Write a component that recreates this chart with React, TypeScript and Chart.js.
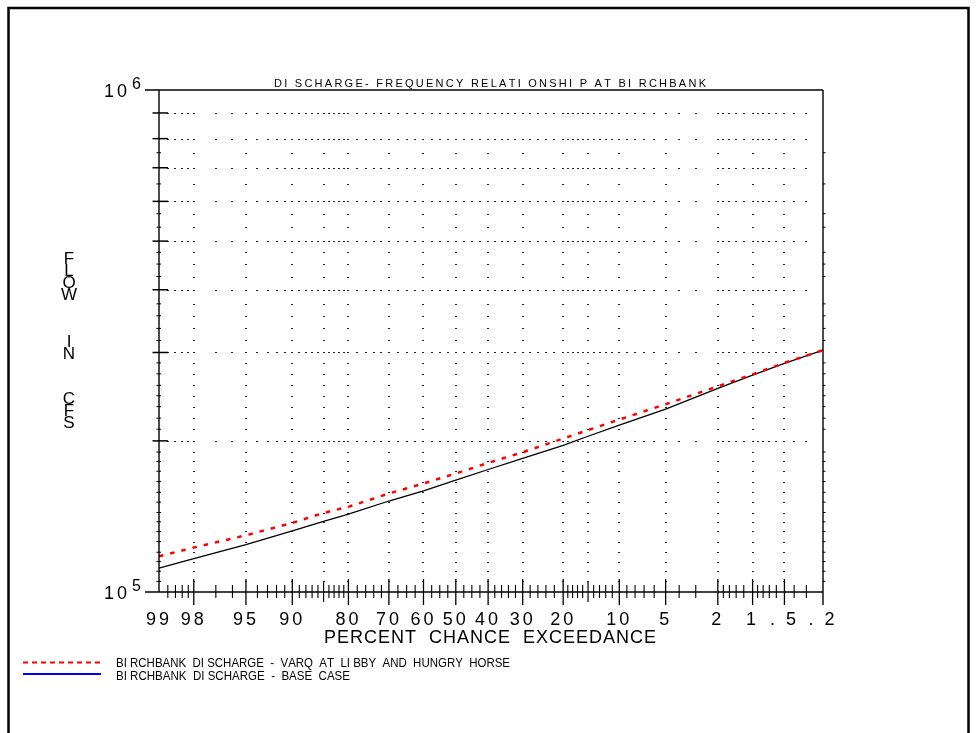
import React, { useEffect, useRef } from 'react';
import { Chart, Scale, LineController, LineElement, PointElement, LogarithmicScale, LinearScale } from 'chart.js';

// ---------------- data ----------------
const PCT = [99, 98, 95, 90, 85, 80, 70, 60, 50, 40, 30, 20, 15, 10, 5, 2, 1, 0.5, 0.2];
const VARQ_FLOW = [117800, 122600, 129700, 137300, 143700, 147800, 157100, 164500, 172200, 180800, 189800, 202200, 210100, 220600, 236600, 257000, 271300, 286100, 303200];
const BASE_FLOW = [111600, 116600, 124300, 132300, 138300, 142900, 151800, 159000, 167000, 175400, 184500, 196000, 204300, 214900, 231300, 254400, 270400, 285300, 303200];

const X_LEFT = 99;
const X_RIGHT = 0.2;
const X_MAJOR = [99, 98, 95, 90, 80, 70, 60, 50, 40, 30, 20, 10, 5, 2, 1, 0.5, 0.2];
const X_MAJOR_LABELS = ['99', '98', '95', '90', '80', '70', '60', '50', '40', '30', '20', '10', '5', '2', '1', '. 5', '. 2'];
const X_MEDIUM = [85, 15];
const X_MINOR = [98.8, 98.6, 98.4, 98.2, 97, 96, 94, 93, 92, 91, 89, 88, 87, 86, 84, 83, 82, 81, 78, 76, 74, 72, 67.5, 65, 62.5, 57.5, 55, 52.5, 47.5, 45, 42.5, 38, 36, 34, 32, 28, 26, 24, 22, 19, 18, 17, 16, 14, 13, 12, 11, 9, 8, 7, 6, 4, 3, 1.8, 1.6, 1.4, 1.2, 0.9, 0.8, 0.7, 0.6, 0.4, 0.3];
const X_GRID = [98, 95, 90, 85, 80, 70, 60, 50, 40, 30, 20, 15, 10, 5, 2, 1, 0.5];

const Y_MIN = 1e5;
const Y_MAX = 1e6;
const Y_MAJOR = [2e5, 3e5, 4e5, 5e5, 6e5, 7e5, 8e5, 9e5];
const Y_MINOR = [1.05e5, 1.1e5, 1.15e5, 1.2e5, 1.26e5, 1.32e5, 1.38e5, 1.44e5, 1.51e5, 1.58e5, 1.66e5, 1.74e5, 1.82e5, 1.9e5, 2.11e5, 2.22e5, 2.34e5, 2.46e5, 2.58e5, 2.72e5, 2.86e5, 3.17e5, 3.35e5, 3.55e5, 3.75e5, 4.25e5, 4.5e5, 4.75e5, 5.33e5, 5.67e5, 6.5e5, 7.5e5];
const Y_EXP_LABELS = [{ value: 1e5, base: '10', exp: '5' }, { value: 1e6, base: '10', exp: '6' }];

const TITLE = 'DI SCHARGE- FREQUENCY RELATI ONSHI P AT BI RCHBANK';
const X_TITLE = 'PERCENT  CHANCE  EXCEEDANCE';
const Y_TITLE = 'FLOW IN CFS';
const LEGEND_LABELS = [
  'BI RCHBANK  DI SCHARGE  -  VARQ  AT  LI BBY  AND  HUNGRY  HORSE',
  'BI RCHBANK  DI SCHARGE  -  BASE  CASE',
];

const FONT = "'Liberation Sans', Arial, Helvetica, sans-serif";

// ---------------- normal probability transform ----------------
function normInv(p: number): number {
  const a = [-3.969683028665376e1, 2.209460984245205e2, -2.759285104469687e2, 1.38357751867269e2, -3.066479806614716e1, 2.506628277459239];
  const b = [-5.447609879822406e1, 1.615858368580409e2, -1.556989798598866e2, 6.680131188771972e1, -1.328068155288572e1];
  const c = [-7.784894002430293e-3, -3.223964580411365e-1, -2.400758277161838, -2.549732539343734, 4.374664141464968, 2.938163982698783];
  const d = [7.784695709041462e-3, 3.224671290700398e-1, 2.445134137142996, 3.754408661907416];
  const pl = 0.02425;
  if (p < pl) {
    const q = Math.sqrt(-2 * Math.log(p));
    return (((((c[0] * q + c[1]) * q + c[2]) * q + c[3]) * q + c[4]) * q + c[5]) / ((((d[0] * q + d[1]) * q + d[2]) * q + d[3]) * q + 1);
  }
  if (p <= 1 - pl) {
    const q = p - 0.5;
    const r = q * q;
    return ((((((a[0] * r + a[1]) * r + a[2]) * r + a[3]) * r + a[4]) * r + a[5]) * q) / (((((b[0] * r + b[1]) * r + b[2]) * r + b[3]) * r + b[4]) * r + 1);
  }
  const q = Math.sqrt(-2 * Math.log(1 - p));
  return -(((((c[0] * q + c[1]) * q + c[2]) * q + c[3]) * q + c[4]) * q + c[5]) / ((((d[0] * q + d[1]) * q + d[2]) * q + d[3]) * q + 1);
}
const zOf = (pct: number) => normInv(1 - pct / 100);

class ProbabilityScale extends Scale {
  static id = 'probability';
  static defaults = {};
  determineDataLimits() {
    (this as any).min = Math.min(X_LEFT, X_RIGHT);
    (this as any).max = Math.max(X_LEFT, X_RIGHT);
  }
  buildTicks() {
    return X_MAJOR.map((value) => ({ value }));
  }
  getLabelForValue(value: number) {
    return String(value);
  }
  getPixelForValue(value: number) {
    const z0 = zOf(X_LEFT);
    const z1 = zOf(X_RIGHT);
    return (this as any).getPixelForDecimal((zOf(value) - z0) / (z1 - z0));
  }
  getValueForPixel(pixel: number) {
    const dd = (this as any).getDecimalForPixel(pixel);
    const z0 = zOf(X_LEFT);
    const z1 = zOf(X_RIGHT);
    const zt = z0 + dd * (z1 - z0);
    let lo = 0.0001;
    let hi = 99.9999;
    for (let i = 0; i < 60; i++) {
      const mid = (lo + hi) / 2;
      if (zOf(mid) > zt) lo = mid;
      else hi = mid;
    }
    return (lo + hi) / 2;
  }
}

// ---------------- text helper ----------------
function drawText(ctx: CanvasRenderingContext2D, text: string, x: number, y: number, px: number, opts: { align?: 'left' | 'center'; width?: number; spacing?: number } = {}) {
  ctx.font = `${px}px ${FONT}`;
  ctx.textAlign = 'left';
  ctx.textBaseline = 'alphabetic';
  const chars = Array.from(text);
  const adv = chars.map((ch) => ctx.measureText(ch).width);
  const natural = adv.reduce((s, w) => s + w, 0);
  let sp = opts.spacing ?? 0;
  let sx = 1;
  if (opts.width != null) {
    sp = (opts.width - natural) / Math.max(1, chars.length - 1);
    if (sp < 0) {
      sp = 0;
      sx = opts.width / natural;
    }
  }
  const total = (natural + sp * (chars.length - 1)) * sx;
  const x0 = opts.align === 'center' ? x - total / 2 : x;
  ctx.save();
  ctx.translate(x0, y);
  ctx.scale(sx, 1);
  let cx = 0;
  chars.forEach((ch, i) => {
    if (ch !== ' ') ctx.fillText(ch, cx, 0);
    cx += adv[i] + sp;
  });
  ctx.restore();
}

// ---------------- probability paper plugin ----------------
const paperPlugin = {
  id: 'probabilityPaper',
  beforeDatasetsDraw(chart: any) {
    const ctx: CanvasRenderingContext2D = chart.ctx;
    const xs = chart.scales.x;
    const ys = chart.scales.y;
    ctx.save();
    ctx.fillStyle = '#222';
    const xTicks = [...X_MAJOR, ...X_MEDIUM, ...X_MINOR].filter((p) => p !== X_LEFT && p !== X_RIGHT);
    for (const v of Y_MAJOR) {
      const y = Math.round(ys.getPixelForValue(v));
      for (const p of xTicks) {
        const x = Math.round(xs.getPixelForValue(p));
        ctx.fillRect(x - 1, y, 2, 1);
      }
    }
    for (const p of X_GRID) {
      const x = Math.round(xs.getPixelForValue(p));
      for (const v of Y_MINOR) {
        const y = Math.round(ys.getPixelForValue(v));
        ctx.fillRect(x - 1, y, 2, 1);
      }
    }
    ctx.restore();
  },
  afterDatasetsDraw(chart: any) {
    const ctx: CanvasRenderingContext2D = chart.ctx;
    const xs = chart.scales.x;
    const ys = chart.scales.y;
    const L = xs.getPixelForValue(X_LEFT);
    const R = xs.getPixelForValue(X_RIGHT);
    const T = ys.getPixelForValue(Y_MAX);
    const B = ys.getPixelForValue(Y_MIN);
    ctx.save();
    ctx.strokeStyle = '#000';
    ctx.fillStyle = '#000';
    ctx.setLineDash([]);

    const line = (x1: number, y1: number, x2: number, y2: number, w = 1.3) => {
      ctx.lineWidth = w;
      ctx.beginPath();
      ctx.moveTo(x1, y1);
      ctx.lineTo(x2, y2);
      ctx.stroke();
    };

    // axes frame
    line(L - 14, T, R, T, 1.4);
    line(L - 14, B, R, B, 1.4);
    line(L, T, L, B, 1.4);
    line(R, T, R, B + 13, 1.4);

    // y ticks
    for (const v of Y_MAJOR) {
      const y = ys.getPixelForValue(v);
      line(L - 6.5, y, L + 9, y, 1.5);
    }
    for (const v of Y_MINOR) {
      const y = ys.getPixelForValue(v);
      line(L - 2.5, y, L + 2, y, 1);
      line(R, y, R + 2.5, y, 1);
    }

    // x ticks
    for (const p of X_MAJOR) {
      if (p === X_LEFT || p === X_RIGHT) continue;
      const x = xs.getPixelForValue(p);
      line(x, B - 13, x, B + 13, 1.3);
    }
    for (const p of X_MEDIUM) {
      const x = xs.getPixelForValue(p);
      line(x, B - 10, x, B + 10, 1.2);
    }
    for (const p of X_MINOR) {
      const x = xs.getPixelForValue(p);
      line(x, B - 7, x, B + 6, 1.1);
    }

    // x tick labels
    X_MAJOR.forEach((p, i) => {
      const x = xs.getPixelForValue(p);
      drawText(ctx, X_MAJOR_LABELS[i], x - 1.5, B + 33, 18, { align: 'center', spacing: 3 });
    });

    // y exponent labels
    for (const lab of Y_EXP_LABELS) {
      const y = ys.getPixelForValue(lab.value);
      drawText(ctx, lab.base, L - 55, y + 6.5, 18, { spacing: 3 });
      drawText(ctx, lab.exp, L - 27, y - 1, 16);
    }

    // title
    drawText(ctx, TITLE, (L + R) / 2 - 1, T - 3.3, 11, { align: 'center', width: 432 });
    // x axis title
    drawText(ctx, X_TITLE, (L + R) / 2 - 1, B + 51, 18, { align: 'center', width: 332 });

    // y axis title, stacked letters
    const yTitleBaselines = [263.5, 275.8, 288, 300.3, 0, 347, 359, 0, 403.5, 415.8, 428];
    Array.from(Y_TITLE).forEach((ch, i) => {
      if (ch === ' ') return;
      drawText(ctx, ch, 69, yTitleBaselines[i], 17, { align: 'center' });
    });

    // legend
    ctx.strokeStyle = '#ff0000';
    ctx.setLineDash([5, 4]);
    line(23, 662.5, 101, 662.5, 2);
    ctx.setLineDash([]);
    ctx.strokeStyle = '#0000ff';
    line(23, 674, 101, 674, 2);
    ctx.fillStyle = '#000';
    drawText(ctx, LEGEND_LABELS[0], 116, 666.5, 13, { width: 394 });
    drawText(ctx, LEGEND_LABELS[1], 116, 679.5, 13, { width: 234 });

    // page frame
    ctx.strokeStyle = '#000';
    ctx.lineWidth = 2.5;
    ctx.beginPath();
    ctx.moveTo(8.5, 740);
    ctx.lineTo(8.5, 8);
    ctx.lineTo(968.5, 8);
    ctx.lineTo(968.5, 740);
    ctx.stroke();
    ctx.restore();
  },
};

Chart.register(LineController, LineElement, PointElement, LogarithmicScale, LinearScale, ProbabilityScale as any);

export default function App() {
  const ref = useRef<HTMLCanvasElement>(null);
  useEffect(() => {
    const chart = new Chart(ref.current as HTMLCanvasElement, {
      type: 'line',
      data: {
        datasets: [
          {
            label: 'BIRCHBANK DISCHARGE - VARQ AT LIBBY AND HUNGRY HORSE',
            data: PCT.map((p, i) => ({ x: p, y: VARQ_FLOW[i] })),
            borderColor: '#ff0000',
            borderWidth: 2.5,
            borderDash: [4.5, 7],
            pointRadius: 0,
            tension: 0,
            fill: false,
          },
          {
            label: 'BIRCHBANK DISCHARGE - BASE CASE',
            data: PCT.map((p, i) => ({ x: p, y: BASE_FLOW[i] })),
            borderColor: '#000000',
            borderWidth: 1.3,
            pointRadius: 0,
            tension: 0,
            fill: false,
          },
        ],
      },
      options: {
        responsive: false,
        animation: false,
        devicePixelRatio: 1,
        events: [],
        layout: { padding: { left: 159, right: 154, top: 90, bottom: 141 } },
        scales: {
          x: { type: 'probability', position: 'bottom', display: false } as any,
          y: { type: 'logarithmic', position: 'left', display: false, min: Y_MIN, max: Y_MAX },
        },
        plugins: { legend: { display: false }, tooltip: { enabled: false } } as any,
      } as any,
      plugins: [paperPlugin],
    });
    return () => chart.destroy();
  }, []);
  return (
    <div style={{ position: 'fixed', left: 0, top: 0, width: 977, height: 733, overflow: 'hidden', background: '#fff' }}>
      <canvas ref={ref} width={977} height={733} style={{ display: 'block' }} />
    </div>
  );
}
